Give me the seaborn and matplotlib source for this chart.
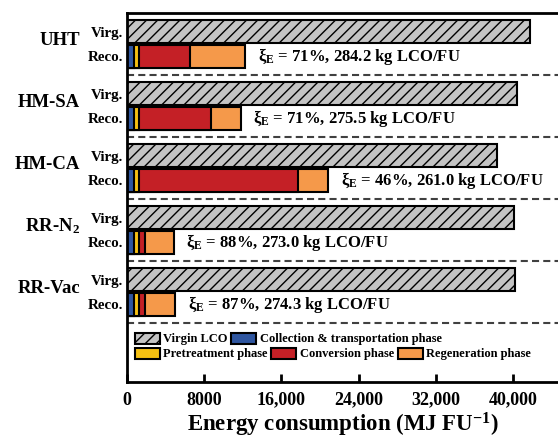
import numpy as np
import pandas as pd
import matplotlib
matplotlib.use("Agg")
import matplotlib.pyplot as plt
from matplotlib.patches import Patch
import seaborn as sns

# ---- data -------------------------------------------------------------
routes = ["UHT", "HM-SA", "HM-CA", "RR-N$_2$", "RR-Vac"]
virgin_lco = [41750, 40400, 38300, 40050, 40200]          # MJ FU-1
collection = [750, 750, 750, 750, 750]
pretreatment = [500, 500, 500, 500, 500]
conversion = [5250, 7450, 16510, 570, 570]
regeneration = [5750, 3100, 3110, 3000, 3180]
xi_e = [71, 71, 46, 88, 87]                                # %
lco_mass = [284.2, 275.5, 261.0, 273.0, 274.3]             # kg LCO/FU
bar_labels = ["Virg.", "Reco."]
x_ticks = [0, 8000, 16000, 24000, 32000, 40000]
x_tick_labels = ["0", "8000", "16,000", "24,000", "32,000", "40,000"]

phase_names = ["Collection & transportation phase", "Pretreatment phase",
               "Conversion phase", "Regeneration phase"]
phase_colors = ["#2f56a0", "#f5c012", "#c42026", "#f5994a"]
virgin_color = "#c4c4c4"

# ---- style ------------------------------------------------------------
sns.set_theme(style="white")
plt.rcParams["font.family"] = ["Liberation Serif", "DejaVu Serif"]
plt.rcParams["font.weight"] = "bold"
plt.rcParams["mathtext.fontset"] = "custom"
plt.rcParams["mathtext.rm"] = "Liberation Serif:bold"
plt.rcParams["mathtext.bf"] = "Liberation Serif:bold"
plt.rcParams["mathtext.it"] = "Liberation Serif:bold:italic"
plt.rcParams["hatch.linewidth"] = 1.0
for key in ["text.color", "axes.labelcolor", "xtick.color", "ytick.color",
            "legend.labelcolor"]:
    plt.rcParams[key] = "black"

fig = plt.figure(figsize=(5.58, 4.38), dpi=100)
ax = fig.add_axes([0.2276, 0.1279, 0.7724, 0.8425])

n = len(routes)
centers = np.arange(n)
virg_pos = centers - 0.2
reco_pos = centers + 0.2
bar_h = 0.37
edge_kw = dict(edgecolor="black", linewidth=1.5)

# virgin LCO bars
sns.barplot(x=virgin_lco, y=virg_pos, orient="h", native_scale=True,
            width=bar_h, color=virgin_color, saturation=1, errorbar=None,
            hatch="///", ax=ax, **edge_kw)

# recovered route: stacked phases drawn as cumulative totals, back to front
stack = np.cumsum(np.array([collection, pretreatment, conversion, regeneration]), axis=0)
for level in range(stack.shape[0] - 1, -1, -1):
    sns.barplot(x=stack[level], y=reco_pos, orient="h", native_scale=True,
                width=bar_h, color=phase_colors[level], saturation=1,
                errorbar=None, ax=ax, **edge_kw)

# efficiency annotations after each recovered bar
totals = stack[-1]
for i in range(n):
    ax.text(totals[i] + 1300, reco_pos[i],
            "ξ$_\\mathbf{E}$ = %d%%, %.1f kg LCO/FU" % (xi_e[i], lco_mass[i]),
            ha="left", va="center", fontsize=12, fontweight="bold", color="black")

# dashed separators between routes
for i in range(n):
    ax.axhline(i + 0.5, color="#404040", lw=1.5, ls=(0, (3.4, 2.0)), zorder=0.5)

# route names on the left
for i, name in enumerate(routes):
    ax.text(-0.109, i - 0.06, name, transform=ax.get_yaxis_transform(),
            ha="right", va="center", fontsize=13.5, fontweight="bold",
            color="black")

ax.set_xlim(0, 44650)
ax.set_ylim(5.45, -0.5)
ax.set_yticks(list(virg_pos) + list(reco_pos))
ax.set_yticklabels([bar_labels[0]] * n + [bar_labels[1]] * n,
                   fontsize=10.8, fontweight="bold")
ax.set_xticks(x_ticks)
ax.set_xticklabels(x_tick_labels, fontsize=13, fontweight="bold")
ax.tick_params(axis="y", length=0, pad=3, labelcolor="black")
ax.tick_params(axis="x", direction="in", length=6, width=2, pad=7, bottom=True,
               color="black", labelcolor="black")
ax.set_ylabel("")
ax.set_xlabel("Energy consumption (MJ FU$^{-1}$)", fontsize=16.5,
              fontweight="bold", labelpad=1.5, color="black")

for side in ["top", "left", "bottom"]:
    ax.spines[side].set_linewidth(2)
    ax.spines[side].set_color("black")
ax.spines["right"].set_visible(False)

# legend in two rows
h_virgin = Patch(facecolor=virgin_color, edgecolor="black", linewidth=1.5,
                 hatch="///", label="Virgin LCO")
h_phase = [Patch(facecolor=c, edgecolor="black", linewidth=1.5, label=l)
           for c, l in zip(phase_colors, phase_names)]
leg_kw = dict(frameon=False, fontsize=9, handlelength=2.0, handleheight=1.0,
              handletextpad=0.25, columnspacing=0.3, borderpad=0,
              borderaxespad=0, loc="center left", labelcolor="black")
leg1 = ax.legend(handles=[h_virgin, h_phase[0]], ncol=2,
                 bbox_to_anchor=(0.0186, 0.1165), **leg_kw)
ax.add_artist(leg1)
ax.legend(handles=h_phase[1:], ncol=3,
          bbox_to_anchor=(0.0186, 0.0759), **leg_kw)

fig.savefig("out.png", dpi=100)
